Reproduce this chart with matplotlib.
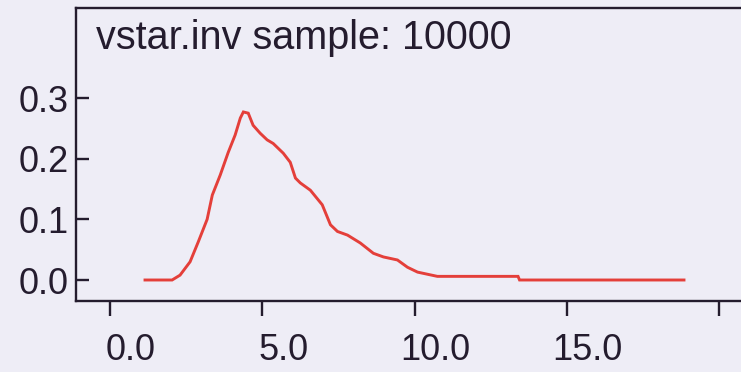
import matplotlib
matplotlib.use("Agg")
import matplotlib.pyplot as plt
import matplotlib.transforms as mtransforms

# density curve of vstar.inv
x_vals = [1.15, 2.04, 2.30, 2.63, 2.90, 3.19, 3.36, 3.62, 3.88, 4.11, 4.28, 4.38,
          4.54, 4.70, 4.93, 5.16, 5.36, 5.69, 5.92, 6.09, 6.25, 6.58, 6.97, 7.24,
          7.47, 7.80, 8.22, 8.65, 8.98, 9.44, 9.77, 10.10, 10.75, 13.40, 13.45, 18.85]
y_vals = [0.000, 0.000, 0.008, 0.030, 0.063, 0.100, 0.140, 0.173, 0.210, 0.239, 0.267, 0.277,
          0.275, 0.255, 0.242, 0.231, 0.225, 0.209, 0.194, 0.168, 0.160, 0.148, 0.124, 0.091,
          0.080, 0.074, 0.061, 0.044, 0.038, 0.033, 0.021, 0.013, 0.006, 0.006, 0.000, 0.000]

x_ticks = [0, 5, 10, 15, 20]
x_tick_labels = ["0.0", "5.0", "10.0", "15.0", ""]
y_ticks = [0.0, 0.1, 0.2, 0.3]
y_tick_labels = ["0.0", "0.1", "0.2", "0.3"]
title = "vstar.inv sample: 10000"

bg = "#EEEDF6"
ink = "#241C2E"
red = "#E43F3A"

plt.rcParams['font.family'] = ['Liberation Sans', 'DejaVu Sans']

W, H = 741, 372
fig = plt.figure(figsize=(W / 100, H / 100), dpi=100, facecolor=bg)

left_px, right_px, top_px, bottom_px = 76, 780, 8, 301
ax = fig.add_axes([left_px / W, (H - bottom_px) / H,
                   (right_px - left_px) / W, (bottom_px - top_px) / H])
ax.set_facecolor(bg)

ax.plot(x_vals, y_vals, color=red, lw=2.1, solid_joinstyle='miter')

px_per_x = (719 - 110) / 20.0
ax.set_xlim((left_px - 110) / px_per_x, (right_px - 110) / px_per_x)
px_per_y = (280 - 98) / 0.3
ax.set_ylim(-(bottom_px - 280) / px_per_y, (280 - top_px) / px_per_y)

for s in ax.spines.values():
    s.set_color(ink)
    s.set_linewidth(1.7)

ax.set_xticks(x_ticks)
ax.set_xticklabels(x_tick_labels)
ax.set_yticks(y_ticks)
ax.set_yticklabels(y_tick_labels)

ax.tick_params(axis='x', direction='out', length=11, width=1.7, color=ink,
               labelsize=26, labelcolor=ink, pad=12)
ax.tick_params(axis='y', direction='in', length=9.5, width=1.7, color=ink,
               labelsize=26, labelcolor=ink, pad=5)

offset = mtransforms.ScaledTranslation(21 / 100, 0, fig.dpi_scale_trans)
for lab in ax.get_xticklabels():
    lab.set_transform(lab.get_transform() + offset)

fig.text(96 / W, (H - 49) / H, title, fontsize=28.5, color=ink,
         ha='left', va='baseline')

fig.savefig("out.png", dpi=100, facecolor=bg)
